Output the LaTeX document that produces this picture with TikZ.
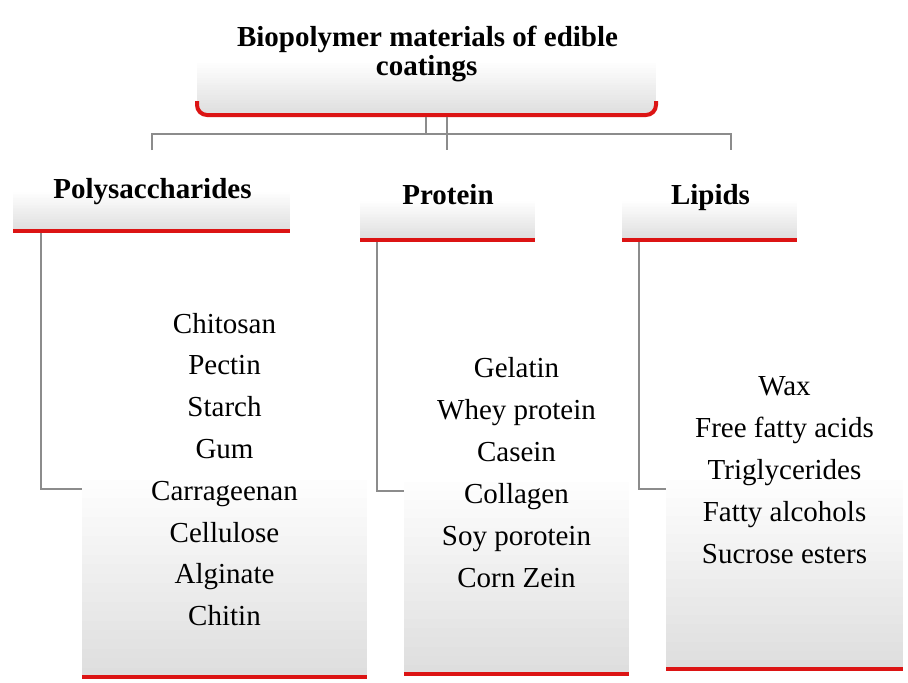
\documentclass[tikz,border=0pt]{standalone}
\usepackage{fontspec}
\setmainfont{Liberation Serif}
\definecolor{rimred}{RGB}{220,20,20}
\definecolor{connc}{RGB}{140,140,140}
\definecolor{shadebot}{RGB}{222,222,222}
% gradient fill in horizontal bands: x0, y0 (top), x1, y1 (bottom), band where gray starts (of 40)
\newcommand{\gradbands}[5]{%
  \foreach \k in {0,...,39}{%
    \pgfmathsetmacro{\pp}{max(0,(\k-#5)/(39-#5))*100}%
    \fill[shadebot!\pp!white] (#1,{#2+(#4-#2)*\k/40}) rectangle (#3,{#2+(#4-#2)*(\k+1.1)/40});
  }}
\begin{document}
\begin{tikzpicture}[x=1pt,y=-1pt,
  boxnode/.style={draw=none, inner sep=0pt, outer sep=0pt, anchor=south west},
  rim/.style={draw=rimred, line width=4pt},
  conn/.style={draw=connc, line width=2.8pt},
  hdr/.style={font=\fontsize{29}{30}\selectfont\bfseries, anchor=base, inner sep=0pt},
  item/.style={font=\fontsize{29}{30}\selectfont, anchor=base, inner sep=0pt}]
\useasboundingbox[fill=white] (0,0) rectangle (908,683);

% gradient fills
\begin{scope}
  \clip[rounded corners=10pt] (197,10) rectangle (656,115);
  \gradbands{197}{15}{656}{115}{18}
\end{scope}
\gradbands{13}{169}{290}{231}{14}
\gradbands{360}{178}{535}{240}{14}
\gradbands{622}{178}{797}{240}{14}
\gradbands{82}{301}{367}{677}{18}
\gradbands{404}{308}{629}{674}{18}
\gradbands{666}{309}{903}{669}{18}

% title box
\node[boxnode, minimum width=459pt, minimum height=100pt] (title) at (197,115) {};
\draw[rim, rounded corners=10pt] ([yshift=14pt]title.south west) -- (title.south west) -- (title.south east) -- ([yshift=14pt]title.south east);
\node[hdr] (t1) at (427.5,46) {Biopolymer materials of edible};
\node[hdr] (t2) at (426.7,75.5) {coatings};

% header boxes
\node[boxnode, minimum width=277pt, minimum height=62pt] (hpoly) at (13,231) {};
\node[boxnode, minimum width=175pt, minimum height=62pt] (hprot) at (360,240) {};
\node[boxnode, minimum width=175pt, minimum height=62pt] (hlip) at (622,240) {};
\draw[rim] (hpoly.south west) -- (hpoly.south east);
\draw[rim] (hprot.south west) -- (hprot.south east);
\draw[rim] (hlip.south west) -- (hlip.south east);
\node[hdr] (lpoly) at (152.5,198) {Polysaccharides};
\node[hdr] (lprot) at (448,204) {Protein};
\node[hdr] (llip) at (710.5,204) {Lipids};

% item boxes
\node[boxnode, minimum width=285pt, minimum height=376pt] (bpoly) at (82,677) {};
\node[boxnode, minimum width=225pt, minimum height=366pt] (bprot) at (404,674) {};
\node[boxnode, minimum width=237pt, minimum height=360pt] (blip) at (666,669) {};
\draw[rim] (bpoly.south west) -- (bpoly.south east);
\draw[rim] (bprot.south west) -- (bprot.south east);
\draw[rim] (blip.south west) -- (blip.south east);

\foreach \t [count=\i] in {Chitosan,Pectin,Starch,Gum,Carrageenan,Cellulose,Alginate,Chitin}
  \node[item] (pi\i) at (224.5,{333+41.8*(\i-1)}) {\t};
\foreach \t [count=\i] in {Gelatin,Whey protein,Casein,Collagen,Soy porotein,Corn Zein}
  \node[item] (ri\i) at (516.5,{377+42*(\i-1)}) {\t};
\foreach \t [count=\i] in {Wax,Free fatty acids,Triglycerides,Fatty alcohols,Sucrose esters}
  \node[item] (li\i) at (784.5,{395+42*(\i-1)}) {\t};

% connectors
\coordinate (jl) at (426,134);
\coordinate (jr) at (447,150);
\coordinate (ea) at (152,150);
\coordinate (eb) at (731,150);
\draw[conn, shorten <=2pt] (jl |- title.south) -- (jl);
\draw[conn, shorten <=2pt] (jr |- title.south) -- (jr);
\draw[conn] (ea) -- (152,134) -- (731,134) -- (eb);
\draw[conn, shorten <=2pt] ([xshift=28pt]hpoly.south west) |- (bpoly.west);
\draw[conn, shorten <=2pt] ([xshift=17pt]hprot.south west) |- (bprot.west);
\draw[conn, shorten <=2pt] ([xshift=17pt]hlip.south west) |- (blip.west);
\end{tikzpicture}
\end{document}
